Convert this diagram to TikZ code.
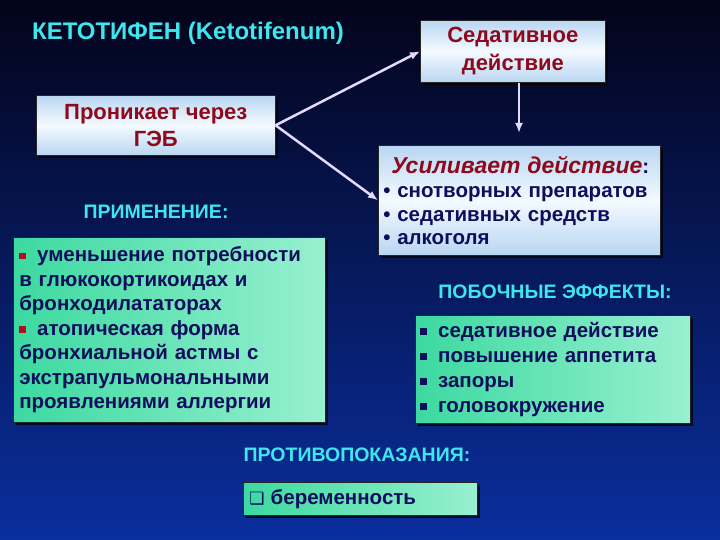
\documentclass[tikz,border=0pt]{standalone}
\usepackage{fontspec}
\setmainfont{Liberation Sans}
\newfontfamily\symfont{DejaVu Sans}
\usetikzlibrary{arrows.meta,shadows}
\definecolor{skyline}{HTML}{3FE6EE}
\definecolor{darkred}{HTML}{8C0A1C}
\definecolor{inknavy}{HTML}{0E0E5C}
\definecolor{bulred}{HTML}{B0101E}
\definecolor{arrlav}{HTML}{E4DAFF}
\definecolor{icefill}{HTML}{B9D6F2}
\definecolor{icewhite}{HTML}{F4FAFF}
\definecolor{mintdark}{HTML}{3CD9A0}
\definecolor{mintlight}{HTML}{98F0D0}
\definecolor{bgtop}{HTML}{03041A}
\definecolor{bgmid}{HTML}{0A2278}
\definecolor{bgbot}{HTML}{0A2E9E}
\newcommand{\sqbul}[1]{\textcolor{#1}{\rule[0.12em]{0.32em}{0.32em}}\hspace{0.55em}}
\begin{document}
\begin{tikzpicture}[x=1pt, y=-1pt,
    head/.style = {text=skyline, font=\bfseries\fontsize{19.5}{23}\selectfont},
    icebox/.style = {draw=black!85, line width=0.6pt, top color=icefill, bottom color=icefill,
        middle color=icewhite, inner sep=0pt, anchor=north west,
        drop shadow={shadow xshift=3pt, shadow yshift=-3pt, opacity=0.7, fill=black}},
    mintbox/.style = {draw=black!85, line width=0.6pt, left color=mintdark, right color=mintlight,
        inner sep=0pt, anchor=north west, text=inknavy,
        drop shadow={shadow xshift=3pt, shadow yshift=-3pt, opacity=0.7, fill=black}},
    arr/.style = {draw=arrlav, line width=2.5pt, -{Latex[length=10pt, width=8pt]}}]
    % background
    \shade[top color=bgtop, middle color=bgmid, bottom color=bgbot] (0,0) rectangle (720,540);
    \useasboundingbox (0,0) rectangle (720,540);
    % headings
    \node[head, font=\bfseries\fontsize{24}{28}\selectfont] (title) at (188,33) {КЕТОТИФЕН (Ketotifenum)};
    \node[head] (usage) at (156,212) {ПРИМЕНЕНИЕ:};
    \node[head] (side) at (555,292) {ПОБОЧНЫЕ ЭФФЕКТЫ:};
    \node[head] (contra) at (357,455) {ПРОТИВОПОКАЗАНИЯ:};
    % boxes
    \node[icebox, minimum width=239, minimum height=60, text=darkred, align=center,
        font=\bfseries\fontsize{22}{27}\selectfont] (gbe) at (36,95) {Проникает через\\ГЭБ};
    \node[icebox, minimum width=185, minimum height=62, text=darkred, align=center,
        font=\bfseries\fontsize{22}{28}\selectfont] (sed) at (420,20) {Седативное\\действие};
    \node[icebox, minimum width=282, minimum height=110, text width=272, align=left, text=inknavy,
        font=\bfseries\fontsize{20.5}{23.5}\selectfont] (usil) at (378,145)
        {\hspace*{8pt}\textcolor{darkred}{\itshape\fontsize{23}{26}\selectfont Усиливает действие}:\\[1pt]
         • снотворных препаратов\\
         • седативных средств\\
         • алкоголя};
    \node[mintbox, minimum width=312, minimum height=185, text width=300, align=left,
        font=\bfseries\fontsize{20.5}{24.5}\selectfont] (usebox) at (13,237)
        {\sqbul{bulred}уменьшение потребности\\
         в глюкокортикоидах и\\
         бронходилататорах\\
         \sqbul{bulred}атопическая форма\\
         бронхиальной астмы с\\
         экстрапульмональными\\
         проявлениями аллергии};
    \node[mintbox, minimum width=275, minimum height=108, text width=265, align=left,
        font=\bfseries\fontsize{20.5}{25}\selectfont] (sidebox) at (415,315)
        {\sqbul{inknavy}седативное действие\\
         \sqbul{inknavy}повышение аппетита\\
         \sqbul{inknavy}запоры\\
         \sqbul{inknavy}головокружение};
    \node[mintbox, minimum width=234, minimum height=33, text width=222, align=left,
        font=\bfseries\fontsize{20.5}{24}\selectfont] (contrabox) at (243,482)
        {{\symfont\fontsize{17}{18}\selectfont ❑}\hspace{0.3em}беременность};
    % arrows
    \coordinate (tip) at (519,133);
    \path (gbe.east) edge[arr] (sed.west);
    \path (gbe.east) edge[arr] (usil.west);
    \path (sed.south -| tip) edge[arr] (tip);
\end{tikzpicture}
\end{document}
